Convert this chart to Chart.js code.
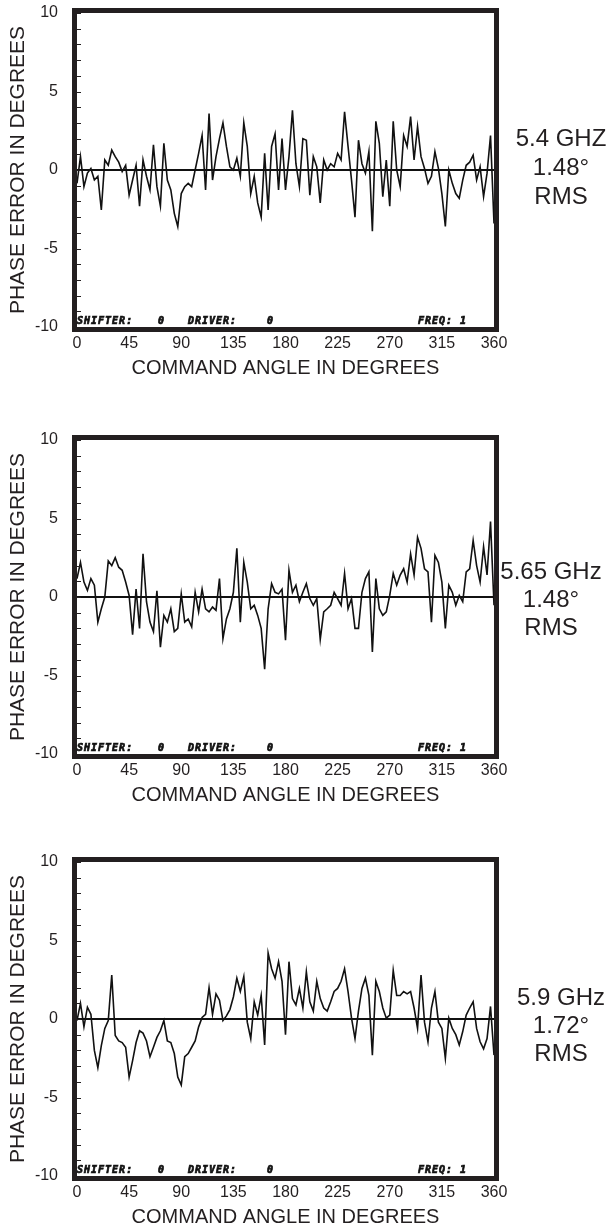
<!DOCTYPE html>
<html>
<head>
<meta charset="utf-8">
<script src="https://cdn.jsdelivr.net/npm/chart.js@4.4.1/dist/chart.umd.min.js"></script>
<style>
  html, body { margin: 0; padding: 0; background: #fff; }
  #page { position: relative; width: 608px; height: 1230px; overflow: hidden; }
  .panel { position: absolute; left: 0; width: 608px; height: 380px; }
</style>
</head>
<body>
<div id="page">
  <div class="panel" style="top:0px"><canvas id="chart54" width="608" height="380"></canvas></div>
  <div class="panel" style="top:427px"><canvas id="chart565" width="608" height="380"></canvas></div>
  <div class="panel" style="top:849px"><canvas id="chart59" width="608" height="380"></canvas></div>
</div>
<script>
const ANGLES = [
  0, 3, 6, 9, 12, 15, 18, 21, 24, 27, 30, 33, 36, 39, 42, 45, 48, 51, 54, 57,
  60, 63, 66, 69, 72, 75, 78, 81, 84, 87, 90, 93, 96, 99, 102, 105, 108, 111, 114, 117,
  120, 123, 126, 129, 132, 135, 138, 141, 144, 147, 150, 153, 156, 159, 162, 165, 168, 171, 174, 177,
  180, 183, 186, 189, 192, 195, 198, 201, 204, 207, 210, 213, 216, 219, 222, 225, 228, 231, 234, 237,
  240, 243, 246, 249, 252, 255, 258, 261, 264, 267, 270, 273, 276, 279, 282, 285, 288, 291, 294, 297,
  300, 303, 306, 309, 312, 315, 318, 321, 324, 327, 330, 333, 336, 339, 342, 345, 348, 351, 354, 357,
  360
];

// phase error (deg) at 5.4 GHz
const ERR_54 = [
  -0.85, 0.85, -1.06, -0.2, 0.1, -0.64, -0.4, -2.55, 0.64, 0.3, 1.27, 0.85, 0.5, -0.1, 0.3, -1.6, -0.64, 0.3, -2.3, 0.64,
  -0.4, -1.27, 1.6, -1.06, -2.3, 1.7, -0.64, -1.27, -2.76, -3.6, -1.5, -1.06, -0.85, -1.06, 0, 1.06, 2.2, -1.27, 3.6, -0.64,
  0.85, 2.0, 3.0, 1.5, 0.2, 0, 0.75, -0.4, 3.0, 1.5, -1.5, -0.4, -2.1, -3.0, 1.06, -2.55, 1.5, 2.3, -1.27, 2.0,
  -1.27, 0.85, 3.8, 0.4, -1.06, 2.0, 1.9, -1.6, 0.85, 0.2, -2.1, 0.64, 0, 0.4, 0.2, 1.06, 0.64, 3.7, 1.5, -0.64,
  -3.0, 1.9, 0.4, -0.2, 1.17, -3.9, 3.1, 1.7, -1.7, 0.64, -2.3, 3.1, 0, -1.06, 2.2, 1.5, 3.4, 0.64, 2.76, 0.85,
  0.1, -0.85, -0.4, 1.17, 0.1, -1.5, -3.6, 0, -0.85, -1.5, -1.8, -0.64, 0.3, 0.5, 0.95, -0.64, 0.2, -1.7, -0.2, 2.2,
  -3.4
];

// phase error (deg) at 5.65 GHz
const ERR_565 = [
  1.17, 2.2, 0.95, 0.42, 1.17, 0.75, -1.6, -0.75, 0, 2.3, 2.0, 2.5, 1.9, 1.7, 0.95, 0.1, -2.4, 0.5, -2.0, 2.75,
  -0.3, -1.6, -2.2, 0.4, -3.2, -1.17, -1.6, -0.75, -2.2, -2.0, 0.2, -1.6, -1.4, -1.9, 0.3, -0.95, 0.5, -0.75, -0.95, -0.64,
  -0.85, 1.17, -2.65, -1.4, -0.75, 0.3, 3.1, -1.6, 2.2, 0.95, -0.75, -0.53, -1.17, -2.0, -4.6, -0.75, 0.85, 0.3, 0.2, 0.5,
  -2.75, 1.7, 0.3, 0.75, -0.3, 0.3, 0.85, -0.1, -0.53, -0.1, -2.7, -0.95, -0.75, -0.53, 0.3, -0.1, -0.53, 1.5, -0.75, -0.1,
  -2.0, -2.0, 0.3, 1.17, 1.6, -3.5, 1.17, -0.75, -1.17, -0.95, 0.1, 1.5, 0.75, 1.4, 1.8, 0.95, 2.75, 1.4, 3.8, 3.1,
  1.8, 1.6, -1.6, 2.65, 2.2, 0.95, -2.0, 0.75, 0.3, -0.53, 0.1, -0.3, 1.6, 1.8, 3.6, 2.0, 0.95, 3.2, 1.4, 4.8,
  -0.53
];

// phase error (deg) at 5.9 GHz
const ERR_59 = [
  -0.1, 1.0, -0.5, 0.75, 0.3, -2.0, -3.1, -1.7, -0.6, -0.1, 2.8, -1.05, -1.4, -1.5, -1.8, -3.7, -2.65, -1.5, -0.75, -0.9,
  -1.4, -2.4, -1.8, -1.17, -0.75, -0.1, -1.4, -1.5, -2.2, -3.7, -4.2, -2.4, -2.2, -1.8, -1.4, -0.5, 0.1, 0.3, 2.0, 0.3,
  1.6, 1.2, -0.1, 0.2, 0.6, 1.4, 2.6, 1.75, 2.7, -0.2, -1.25, 1.1, 0.25, 1.5, -1.65, 4.2, 3.2, 2.6, 3.65, 2.4,
  -1.0, 3.65, 1.3, 0.9, 1.95, 0.7, 3.0, 1.1, 0.5, 2.4, 1.3, 0.7, 0.5, 1.1, 1.75, 1.95, 2.4, 3.2, 1.75, 0.05,
  -1.25, 0.5, 1.95, 2.6, 1.5, -2.3, 2.4, 1.75, 0.7, 0.05, 0.25, 3.1, 1.5, 1.5, 1.75, 1.6, 1.75, 0.7, -0.6, 2.8,
  -0.2, -1.45, 0.7, 1.75, -0.2, -0.6, -2.5, 0.05, -0.6, -1.0, -1.65, -0.8, 0.25, 0.7, 1.1, -0.6, -1.45, -1.9, -1.25, 0.8,
  -2.3
];

const X_TICKS = [0, 45, 90, 135, 180, 225, 270, 315, 360];
const Y_TICKS = [-10, -5, 0, 5, 10];

const FREQ_LABELS = ["5.4 GHZ", "5.65 GHz", "5.9 GHz"];
const RMS_LABELS = ["1.48°", "1.48°", "1.72°"];
const STATUS_TEXT = ["SHIFTER:", "0", "DRIVER:", "0", "FREQ: 1"];

const INK = "#231f20";
Chart.defaults.font.family = '"Liberation Sans", Arial, Helvetica, sans-serif';

// frame, inner ticks, plotter status line and the frequency note on the right
const panelDecor = {
  id: "panelDecor",
  afterDatasetsDraw(chart, args, opts) {
    const { ctx, chartArea: a, scales: { y } } = chart;
    ctx.save();

    ctx.strokeStyle = INK;
    ctx.lineWidth = 1;
    y.ticks.forEach((t, i) => {
      const py = Math.round(y.getPixelForTick(i)) + 0.5;
      ctx.beginPath();
      ctx.moveTo(a.left, py);
      ctx.lineTo(a.left + 4, py);
      ctx.stroke();
    });

    ctx.lineWidth = 5;
    ctx.strokeRect(a.left - 2.5, a.top - 2.5, a.right - a.left + 5, a.bottom - a.top + 5);

    // dot-matrix style status line, heavy like the plotter print
    ctx.fillStyle = "#111";
    ctx.strokeStyle = "#111";
    ctx.lineWidth = 0.7;
    ctx.font = 'italic bold 10px "DejaVu Sans Mono", monospace';
    ctx.letterSpacing = "1px";
    ctx.textBaseline = "alphabetic";
    STATUS_TEXT.forEach((s, i) => {
      ctx.fillText(s, a.left + opts.statusX[i], a.bottom - 3);
      ctx.strokeText(s, a.left + opts.statusX[i], a.bottom - 3);
    });

    ctx.letterSpacing = "0px";
    ctx.fillStyle = INK;
    ctx.font = '24px "Liberation Sans", Arial, sans-serif';
    ctx.textAlign = "center";
    ctx.textBaseline = "middle";
    const y0 = y.getPixelForValue(0);
    opts.lines.forEach((s, i) => ctx.fillText(s, opts.cx, y0 + opts.dy[i]));

    ctx.restore();
  }
};

function makePanel(canvasId, values, idx, note) {
  return new Chart(document.getElementById(canvasId), {
    type: "line",
    data: {
      datasets: [{
        data: ANGLES.map((a, i) => ({ x: a, y: values[i] })),
        borderColor: "#111",
        borderWidth: 1.6,
        pointRadius: 0,
        tension: 0,
        fill: false
      }]
    },
    options: {
      responsive: false,
      animation: false,
      devicePixelRatio: 1,
      layout: { padding: { top: 13, right: 114, bottom: 0, left: 0 } },
      plugins: {
        legend: { display: false },
        tooltip: { enabled: false },
        panelDecor: {
          lines: [FREQ_LABELS[idx], RMS_LABELS[idx], "RMS"],
          cx: note.cx,
          dy: note.dy,
          statusX: [0, 81, 111, 190, 341]
        }
      },
      scales: {
        x: {
          type: "linear",
          min: 0,
          max: 360,
          afterFit: s => { s.height = 53; },
          ticks: {
            stepSize: 45,
            padding: 7,
            color: INK,
            font: { size: 16 },
            callback: v => X_TICKS.includes(v) ? String(v) : ""
          },
          grid: { display: false, drawTicks: false },
          border: { display: false },
          title: {
            display: true,
            text: "COMMAND ANGLE IN DEGREES",
            color: INK,
            font: { size: 20 },
            padding: { top: 0, bottom: 0 }
          }
        },
        y: {
          min: -10,
          max: 10,
          afterFit: s => {
            s.width = 77;
            // label padding would otherwise push the plot top down
            s.paddingTop = 8;
            s.paddingBottom = 8;
          },
          ticks: {
            stepSize: 1,
            autoSkip: false,
            padding: 19,
            color: INK,
            font: { size: 16 },
            callback: v => Y_TICKS.includes(v) ? String(v) : ""
          },
          grid: {
            drawTicks: false,
            lineWidth: 2,
            color: c => (c.tick && c.tick.value === 0) ? "#111" : "rgba(0,0,0,0)"
          },
          border: { display: false },
          title: {
            display: true,
            text: "PHASE ERROR IN DEGREES",
            color: INK,
            font: { size: 21 },
            padding: { top: 6, bottom: 0 }
          }
        }
      }
    },
    plugins: [panelDecor]
  });
}

makePanel("chart54", ERR_54, 0, { cx: 561, dy: [-31, -2, 27] });
makePanel("chart565", ERR_565, 1, { cx: 551, dy: [-25, 3, 31] });
makePanel("chart59", ERR_59, 2, { cx: 561, dy: [-21, 7, 35] });
</script>
</body>
</html>
